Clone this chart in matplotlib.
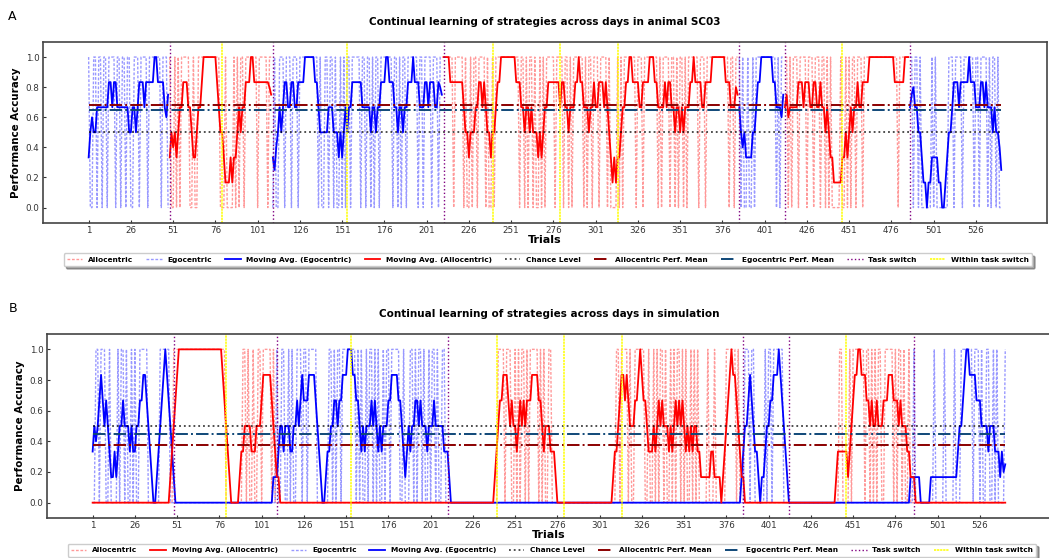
import numpy as np
import matplotlib.pyplot as plt

# block order of the session (which strategy is rewarded)
block_strategy = ["ego", "allo", "ego", "allo", "ego", "allo", "ego"]

# trial outcomes per block, 1 = correct, 0 = wrong
animal_blocks = [
    "100110 110110 111101 101101 100111 011110 111111 101110",
    "100101 011111 001001 111111 111111 000100 001010 110111 111101 1111011",
    "010011 101110 111011 111111 111010 011011 010010 101101 111101 101101 "
    "011011 111110 110101 101111 110110 111101 11011",
    "111111 011111 010010 110111 101001 011111 111111 111011 010110 100101 "
    "011111 011110 110101 111110 101101 110111 101000 010101 111111 011101 "
    "111111 101011 110110 101101 011111 101110 111111 111111 1011011",
    "101001 001011 111111 111101 011",
    "110101 110111 101110 111011 010100 000100 101011 011101 111111 111111 "
    "111111 101111 11",
    "110110 100000 010100 000001 110111 101111 110110 111101 0110100",
]

sim_blocks = [
    "001101 110010 000101 101001 010011 111000 000011 111100",
    "111111 111111 111111 111111 111111 1 000000 0000 110100 100110 "
    "111110 10",
    "100110 010100 111011 011111 000000 011010 110111 111110 101001 011010 "
    "100101 101111 100100 011010 110100 101101 00110",
    "000000 000000 000000 000000 000000 111101 110010 101101 011111 010100 "
    "110000 000000 000000 000000 000000 000000 0000 110111 101001 111110 "
    "010010 101101 001010 110101 001010 100000 100010 000001 111110 100",
    "011101 100000 010110 111111 000",
    "000000 000000 000000 000000 000000 110000 101111 111011 010101 100111 "
    "110101 101001 00",
    "100000 000000 100000 100000 100011 111110 111010 011001 010000 1",
]

task_switch = [49, 110, 211, 386, 413, 487]
within_switch = [80, 154, 240, 280, 314, 447]
xtick_trials = list(range(1, 527, 25))
ytick_vals = [0.0, 0.2, 0.4, 0.6, 0.8, 1.0]

chance_level = 0.5
animal_allo_mean = 0.68
animal_ego_mean = 0.65
sim_allo_mean = 0.375
sim_ego_mean = 0.45

WINDOW = 6
EGO_MEAN_COLOR = "#0f4878"
RAW_DASH = (0, (2.0, 1.2))


def to_bits(s):
    return np.array([int(c) for c in s.replace(" ", "")], dtype=float)


def moving_avg(x):
    # centred window, averaged over the trials that exist at the edges
    k = np.ones(WINDOW)
    return np.convolve(x, k, mode="same") / np.convolve(np.ones_like(x), k, mode="same")


def build_animal():
    bits = [to_bits(s) for s in animal_blocks]
    n = sum(len(b) for b in bits)
    allo, ego = np.full(n, np.nan), np.full(n, np.nan)
    allo_ma, ego_ma = np.full(n, np.nan), np.full(n, np.nan)
    start = 0
    for strat, b in zip(block_strategy, bits):
        sl = slice(start, start + len(b))
        if strat == "allo":
            allo[sl] = b
            allo_ma[sl] = moving_avg(b)
        else:
            ego[sl] = b
            ego_ma[sl] = moving_avg(b)
        start += len(b)
    return allo, ego, allo_ma, ego_ma


def build_sim():
    bits = [to_bits(s) for s in sim_blocks]
    n = sum(len(b) for b in bits)
    allo, ego = np.zeros(n), np.zeros(n)
    start = 0
    for strat, b in zip(block_strategy, bits):
        sl = slice(start, start + len(b))
        if strat == "allo":
            allo[sl] = b
        else:
            ego[sl] = b
        start += len(b)
    return allo, ego, moving_avg(allo), moving_avg(ego)


def draw_panel(ax, data, allo_mean, ego_mean, title, order):
    allo, ego, allo_ma, ego_ma = data
    trials = np.arange(1, len(allo) + 1)
    h = {}
    h["allo"], = ax.plot(trials, allo, color="red", ls=RAW_DASH, lw=1.0,
                         alpha=0.4, label="Allocentric")
    h["ego"], = ax.plot(trials, ego, color="blue", ls=RAW_DASH, lw=1.0,
                        alpha=0.4, label="Egocentric")
    h["ego_ma"], = ax.plot(trials, ego_ma, color="blue", lw=1.3,
                           label="Moving Avg. (Egocentric)")
    h["allo_ma"], = ax.plot(trials, allo_ma, color="red", lw=1.3,
                            label="Moving Avg. (Allocentric)")
    h["chance"], = ax.plot(trials, np.full(len(trials), chance_level),
                           color="black", ls=":", lw=1.3, alpha=0.75,
                           label="Chance Level")
    h["allo_mean"], = ax.plot(trials, np.full(len(trials), allo_mean),
                              color="darkred", ls="-.", lw=1.4,
                              label="Allocentric Perf. Mean")
    h["ego_mean"], = ax.plot(trials, np.full(len(trials), ego_mean),
                             color=EGO_MEAN_COLOR, ls="-.", lw=1.4,
                             label="Egocentric Perf. Mean")
    for i, t in enumerate(task_switch):
        ln = ax.axvline(t, color="purple", ls=":", lw=1.0,
                        label="Task switch" if i == 0 else None)
        if i == 0:
            h["task"] = ln
    for i, t in enumerate(within_switch):
        ln = ax.axvline(t, color="yellow", ls=(0, (1.5, 0.5)), lw=1.1,
                        label="Within task switch" if i == 0 else None)
        if i == 0:
            h["within"] = ln

    ax.set_ylim(-0.1, 1.1)
    ax.set_xticks(xtick_trials)
    ax.set_yticks(ytick_vals)
    ax.tick_params(labelsize=6.3, length=2.5, direction="in", pad=2.5,
                   colors="#333333")
    for sp in ax.spines.values():
        sp.set_color("#444444")
        sp.set_linewidth(1.2)
    ax.set_title(title, fontsize=7.5, fontweight="bold", pad=12)
    ax.set_xlabel("Trials", fontsize=8, fontweight="bold", labelpad=0)
    ax.set_ylabel("Performance Accuracy", fontsize=7.4, fontweight="bold",
                  labelpad=3)
    return [h[k] for k in order]


fig = plt.figure(figsize=(10.49, 5.58), dpi=100)
ax_a = fig.add_axes([0.041, 0.601, 0.957, 0.3237])
ax_b = fig.add_axes([0.0448, 0.0717, 0.957, 0.3297])

order_a = ["allo", "ego", "ego_ma", "allo_ma", "chance", "allo_mean",
           "ego_mean", "task", "within"]
order_b = ["allo", "allo_ma", "ego", "ego_ma", "chance", "allo_mean",
           "ego_mean", "task", "within"]

hand_a = draw_panel(ax_a, build_animal(), animal_allo_mean, animal_ego_mean,
                    "Continual learning of strategies across days in animal SC03",
                    order_a)
hand_b = draw_panel(ax_b, build_sim(), sim_allo_mean, sim_ego_mean,
                    "Continual learning of strategies across days in simulation",
                    order_b)

leg_kw = dict(loc="upper center", ncol=9, shadow=True, fancybox=True,
              prop={"size": 5.3, "weight": "bold"}, handlelength=2.1,
              columnspacing=1.75, borderpad=0.45, handletextpad=0.8)
ax_a.legend(handles=hand_a, labels=[hh.get_label() for hh in hand_a],
            bbox_to_anchor=(0.503, -0.15), **leg_kw)
ax_b.legend(handles=hand_b, labels=[hh.get_label() for hh in hand_b],
            bbox_to_anchor=(0.503, -0.12), **leg_kw)

fig.text(0.008, 0.982, "A", fontsize=9, va="top")
fig.text(0.008, 0.458, "B", fontsize=9, va="top")

fig.savefig("out.png", dpi=100)
